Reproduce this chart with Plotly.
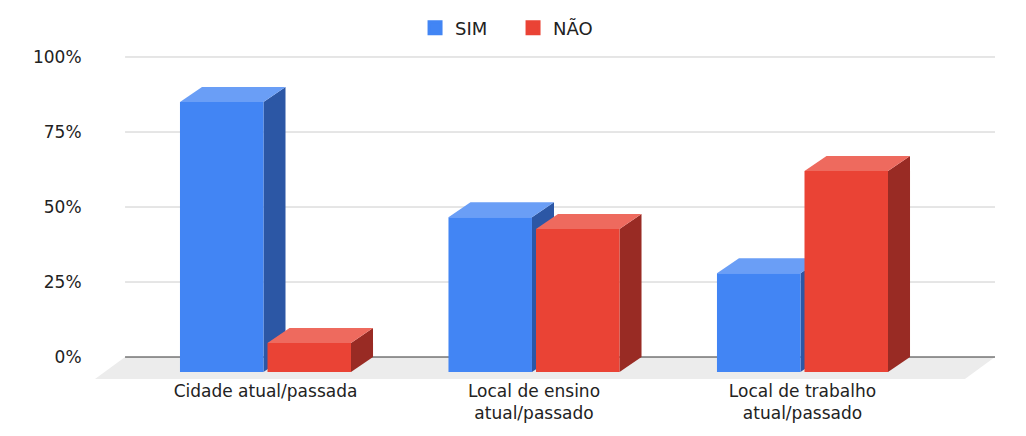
import plotly.graph_objects as go

categorias = ["Cidade atual/passada", "Local de ensino<br>atual/passado", "Local de trabalho<br>atual/passado"]
sim = [0.90, 0.516, 0.329]
nao = [0.097, 0.477, 0.670]
ticks_y = [0, 0.25, 0.5, 0.75, 1.0]
ticks_txt = ["0%", "25%", "50%", "75%", "100%"]

# geometria do "3D" falso (unidades dos eixos)
larg = 0.311      # largura da barra
folga = 0.0075    # meio espaco entre barras
dx = 0.082        # profundidade em x
dy = 0.05         # profundidade em y
piso = 0.0733     # profundidade do piso
y_topo = 1.1633   # espaco acima de 100% para a legenda

cores = {
    "SIM": ("#4285f4", "#6a9ef6", "#2c57a5"),
    "NÃO": ("#ea4335", "#ee6a5e", "#992b24"),
}

fig = go.Figure()


def barra(xc, v, lado, cor_frente, cor_topo, cor_lado):
    if lado == "SIM":
        xl, xr = xc - folga - larg, xc - folga
    else:
        xl, xr = xc + folga, xc + folga + larg
    yb, yt = -dy, v - dy
    # lado direito
    fig.add_trace(go.Scatter(
        x=[xr, xr + dx, xr + dx, xr, xr], y=[yt, v, 0, yb, yt],
        fill="toself", fillcolor=cor_lado, line=dict(width=0),
        mode="lines", showlegend=False, hoverinfo="skip"))
    # topo
    fig.add_trace(go.Scatter(
        x=[xl, xr, xr + dx, xl + dx, xl], y=[yt, yt, v, v, yt],
        fill="toself", fillcolor=cor_topo, line=dict(width=0),
        mode="lines", showlegend=False, hoverinfo="skip"))
    # frente
    fig.add_trace(go.Scatter(
        x=[xl, xr, xr, xl, xl], y=[yb, yb, yt, yt, yb],
        fill="toself", fillcolor=cor_frente, line=dict(width=0),
        mode="lines", showlegend=False, hoverinfo="skip"))


for i in range(len(categorias)):
    barra(i, sim[i], "SIM", *cores["SIM"])
    barra(i, nao[i], "NÃO", *cores["NÃO"])

# entradas da legenda
for nome in ["SIM", "NÃO"]:
    fig.add_trace(go.Bar(x=[None], y=[None], name=nome, marker_color=cores[nome][0],
                         marker_line=dict(color=cores[nome][0], width=3)))

x0, x1 = -0.635, 2.717
xp_back = (-0.523 - x0) / (x1 - x0)
xp_front = (2.605 - x0) / (x1 - x0)

shapes = [dict(type="path", xref="paper", yref="y", layer="below",
               path=f"M {xp_back},0 L 1,0 L {xp_front},{-piso} L 0,{-piso} Z",
               fillcolor="#ececec", line=dict(width=0))]
for t in ticks_y:
    shapes.append(dict(type="line", xref="paper", yref="y", layer="below",
                       x0=xp_back, x1=1, y0=t, y1=t,
                       line=dict(color="#333333" if t == 0 else "#cccccc", width=1)))

# a pagina tem 8px de margem no body, por isso tudo vai 8px para cima/esquerda
fig.update_layout(
    width=1026, height=436,
    margin=dict(l=87, r=39, t=0, b=65),
    paper_bgcolor="white", plot_bgcolor="white",
    font=dict(family="DejaVu Sans", size=17, color="#222222"),
    shapes=shapes,
    showlegend=True,
    legend=dict(orientation="h", x=0.3556, xanchor="left",
                y=0.946, yanchor="middle", entrywidth=53,
                bgcolor="rgba(0,0,0,0)",
                font=dict(size=18, color="#222222")),
    xaxis=dict(range=[x0, x1], tickvals=list(range(len(categorias))),
               ticktext=categorias, showgrid=False, zeroline=False,
               showline=False, ticks="", automargin=False),
    yaxis=dict(range=[-piso, y_topo], tickvals=ticks_y, ticktext=ticks_txt,
               showgrid=False, zeroline=False, showline=False, automargin=False,
               ticks="outside", ticklen=9, tickcolor="rgba(0,0,0,0)"),
)

fig.write_html("out.html")
